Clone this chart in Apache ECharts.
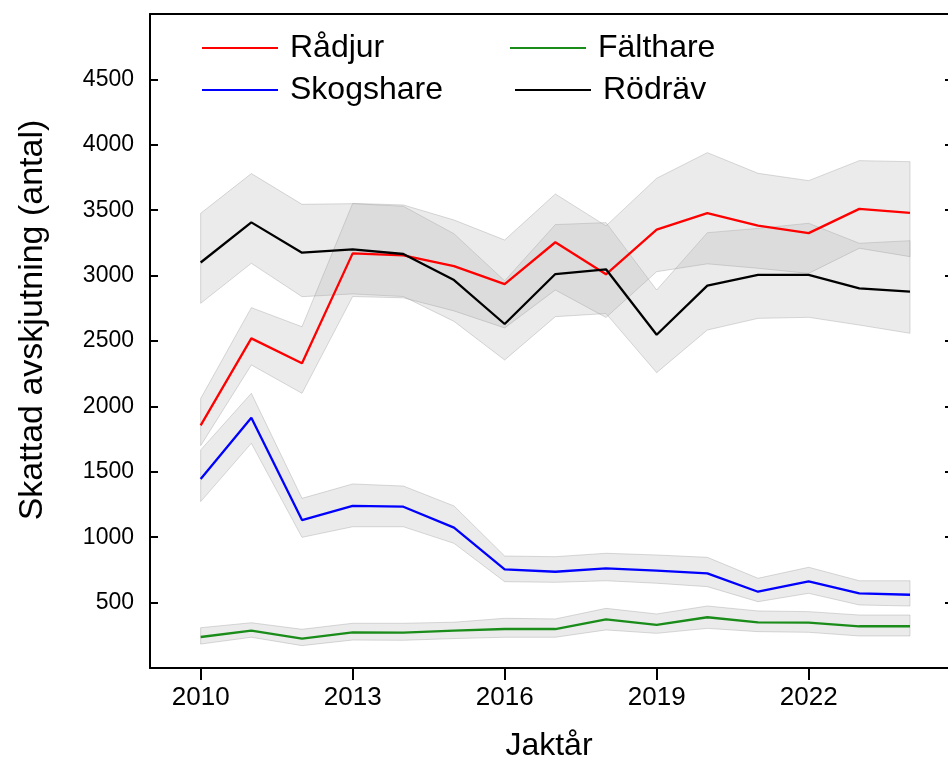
<!DOCTYPE html>
<html>
<head>
<meta charset="utf-8">
<script src="https://cdn.jsdelivr.net/npm/echarts@6/dist/echarts.min.js"></script>
<style>
  html, body { margin: 0; padding: 0; background: #fff; }
  #chart { width: 948px; height: 767px; }
</style>
</head>
<body>
<div id="chart"></div>
<script>
// jaktår
var years = [2010, 2011, 2012, 2013, 2014, 2015, 2016, 2017, 2018, 2019, 2020, 2021, 2022, 2023, 2024];
var xTicks = [2010, 2013, 2016, 2019, 2022];
var yTicks = [500, 1000, 1500, 2000, 2500, 3000, 3500, 4000, 4500];

// skattad avskjutning + osäkerhetsband
var radjur = [1855, 2520, 2330, 3170, 3155, 3073, 2935, 3255, 3010, 3352, 3478, 3382, 3325, 3510, 3480];
var radjurLow = [1700, 2317, 2100, 2840, 2830, 2730, 2600, 2890, 2680, 3030, 3090, 3056, 3017, 3209, 3145];
var radjurHigh = [2060, 2755, 2609, 3552, 3540, 3425, 3272, 3624, 3380, 3744, 3940, 3782, 3726, 3879, 3871];

var rodrav = [3100, 3407, 3175, 3201, 3165, 2966, 2630, 3012, 3048, 2548, 2923, 3005, 3005, 2903, 2877];
var rodravLow = [2788, 3094, 2839, 2860, 2840, 2650, 2355, 2686, 2710, 2258, 2584, 2673, 2681, 2622, 2559];
var rodravHigh = [3476, 3780, 3545, 3550, 3530, 3320, 2960, 3390, 3405, 2890, 3328, 3361, 3400, 3247, 3267];

var skogshare = [1445, 1914, 1131, 1239, 1233, 1073, 754, 736, 762, 744, 724, 583, 663, 571, 560];
var skogshareLow = [1272, 1718, 999, 1080, 1080, 953, 660, 655, 667, 648, 622, 507, 571, 482, 474];
var skogshareHigh = [1667, 2100, 1297, 1407, 1391, 1239, 856, 851, 877, 864, 846, 686, 770, 667, 667];

var falthare = [237, 285, 224, 272, 270, 285, 298, 298, 372, 329, 388, 349, 347, 319, 319];
var falthareLow = [183, 235, 171, 214, 212, 225, 235, 235, 291, 265, 303, 278, 273, 245, 245];
var falthareHigh = [308, 346, 296, 342, 342, 350, 380, 375, 456, 413, 474, 436, 431, 405, 405];

var font = 'Liberation Sans, Arial, sans-serif';

function pairs(vals) {
  return years.map(function (y, i) { return [y, vals[i]]; });
}

// grått band mellan lower och upper
function band(lower, upper) {
  return {
    type: 'custom',
    z: 1,
    silent: true,
    data: [[years[0], lower[0]]],
    renderItem: function (params, api) {
      var pts = [];
      for (var i = 0; i < years.length; i++) pts.push(api.coord([years[i], upper[i]]));
      for (var j = years.length - 1; j >= 0; j--) pts.push(api.coord([years[j], lower[j]]));
      return {
        type: 'polygon',
        shape: { points: pts },
        style: { fill: 'rgba(175,175,175,0.25)', stroke: 'rgba(150,150,150,0.35)', lineWidth: 1 }
      };
    }
  };
}

function line(name, vals, color) {
  return {
    name: name,
    type: 'line',
    z: 3,
    data: pairs(vals),
    color: color,
    symbol: 'none',
    lineStyle: { color: color, width: 2.3 }
  };
}

var chart = echarts.init(document.getElementById('chart'), null, { renderer: 'canvas' });

var legendBase = {
  orient: 'vertical',
  padding: 0,
  itemWidth: 76,
  itemHeight: 2,
  itemGap: 6,
  icon: 'rect',
  textStyle: { fontSize: 32, fontFamily: font, color: '#000', lineHeight: 36, padding: [0, 0, 0, 7] }
};

var option = {
  animation: false,
  backgroundColor: '#fff',
  grid: { left: 150, top: 14, right: 0, height: 654 },
  legend: [
    Object.assign({}, legendBase, { left: 202, top: 30, data: ['Rådjur', 'Skogshare'] }),
    Object.assign({}, legendBase, { left: 510, top: 30, data: ['Fälthare'] }),
    Object.assign({}, legendBase, { left: 515, top: 72, data: ['Rödräv'] })
  ],
  xAxis: [{
    type: 'value',
    min: 2009,
    max: 2024.75,
    name: 'Jaktår',
    nameLocation: 'middle',
    nameGap: 62,
    nameTextStyle: { fontSize: 32, fontFamily: font, color: '#000' },
    axisLine: { show: true, onZero: false, lineStyle: { color: '#000', width: 2 } },
    axisTick: { show: true, customValues: xTicks, length: 12, lineStyle: { color: '#000', width: 2 } },
    axisLabel: {
      customValues: xTicks, fontSize: 26, fontFamily: font, color: '#000', margin: 17,
      formatter: function (v) { return String(v); }
    },
    splitLine: { show: false }
  }, {
    type: 'value',
    position: 'top',
    min: 2009,
    max: 2024.75,
    axisLine: { show: true, onZero: false, lineStyle: { color: '#000', width: 2 } },
    axisTick: { show: false },
    axisLabel: { show: false },
    splitLine: { show: false }
  }],
  yAxis: [{
    type: 'value',
    min: 0,
    max: 5000,
    name: 'Skattad avskjutning (antal)',
    nameLocation: 'middle',
    nameGap: 100,
    nameTextStyle: { fontSize: 34, fontFamily: font, color: '#000', padding: [0, 0, 0, 42] },
    axisLine: { show: true, onZero: false, lineStyle: { color: '#000', width: 2 } },
    axisTick: { show: true, inside: true, customValues: yTicks, length: 8, lineStyle: { color: '#000', width: 2 } },
    axisLabel: {
      customValues: yTicks, fontSize: 23, fontFamily: font, color: '#000', margin: 16,
      formatter: function (v) { return String(v); }
    },
    splitLine: { show: false }
  }, {
    type: 'value',
    position: 'right',
    min: 0,
    max: 5000,
    axisLine: { show: false, onZero: false },
    axisTick: { show: true, inside: true, customValues: yTicks, length: 3, lineStyle: { color: '#000', width: 2 } },
    axisLabel: { show: false },
    splitLine: { show: false }
  }],
  series: [
    band(rodravLow, rodravHigh),
    band(radjurLow, radjurHigh),
    band(skogshareLow, skogshareHigh),
    band(falthareLow, falthareHigh),
    line('Rådjur', radjur, '#ff0000'),
    line('Fälthare', falthare, '#1a8c1a'),
    line('Skogshare', skogshare, '#0000ff'),
    line('Rödräv', rodrav, '#000000')
  ]
};

chart.setOption(option);
</script>
</body>
</html>
